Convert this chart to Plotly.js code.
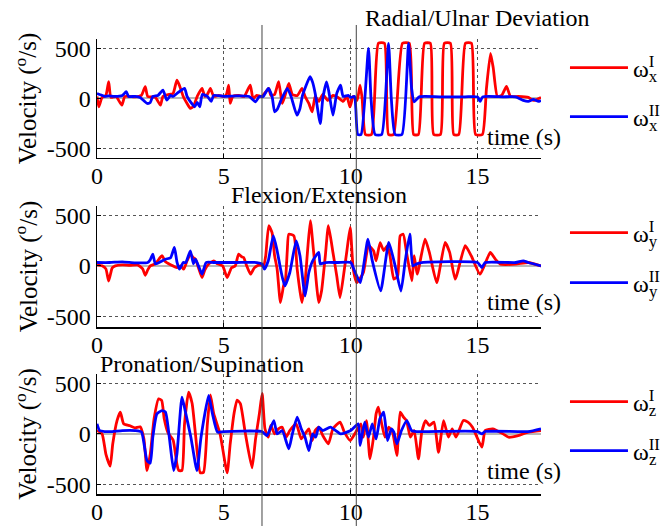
<!DOCTYPE html>
<html>
<head>
<meta charset="utf-8">
<script src="https://cdn.plot.ly/plotly-3.0.1.min.js"></script>
<style>html,body{margin:0;padding:0;background:#fff;overflow:hidden;width:660px;height:526px;}#chart{width:690px;height:526px;}</style>
</head>
<body>
<div id="chart"></div>
<script>
// ---------- data (time in s, angular velocity in deg/s) ----------
const xTicks = [0, 5, 10, 15];
const xTickText = ['0', '5', '10', '15'];
const yTicks = [-500, 0, 500];
const yTickText = ['-500', '0', '500'];
const panelTitles = ['Radial/Ulnar Deviation', 'Flexion/Extension', 'Pronation/Supination'];
const seriesNames = [
  ['ω<sup><span style="letter-spacing:-5.6px">I</span></sup><sub>x</sub>', 'ω<sup>I<span style="letter-spacing:-11px">I</span></sup><sub>x</sub>'],
  ['ω<sup><span style="letter-spacing:-5.6px">I</span></sup><sub>y</sub>', 'ω<sup>I<span style="letter-spacing:-11px">I</span></sup><sub>y</sub>'],
  ['ω<sup><span style="letter-spacing:-5.6px">I</span></sup><sub>z</sub>', 'ω<sup>I<span style="letter-spacing:-11px">I</span></sup><sub>z</sub>']
];

// Radial/Ulnar deviation - sensor I (red)
const tXI = [0,0.07,0.2,0.35,0.46,0.55,0.75,0.98,1.1,1.5,1.75,1.9,2.0,2.3,2.5,2.6,2.85,3.0,3.15,3.25,3.4,3.55,3.68,3.8,3.95,4.14,4.25,4.35,4.47,4.6,4.8,5.0,5.1,5.19,5.25,5.35,5.6,5.8,6.04,6.15,6.3,6.5,6.77,6.85,7.0,7.16,7.3,7.4,7.56,7.7,7.9,8.08,8.2,8.35,8.48,8.6,8.74,8.9,9.1,9.3,9.5,9.7,9.85,9.97,10.1,10.25,10.37,10.45,10.58,10.82,11.09,11.33,11.49,11.69,12.04,12.31,12.48,12.67,12.91,13.14,13.27,13.54,13.69,13.93,14.06,14.26,14.52,14.76,14.92,15.19,15.35,15.51,15.62,15.78,15.95,16.14,16.3,16.6,17.0,17.2,17.5];
const vXI = [20,-83,10,30,167,10,20,-67,20,15,30,117,20,10,-67,20,40,50,183,130,20,-50,-100,-80,20,100,20,40,100,20,30,20,40,133,-50,20,30,20,133,0,30,20,100,30,40,167,-50,20,150,40,30,100,20,-50,-133,20,-30,40,-20,30,10,-30,20,-85,20,-20,133,0,-360,-360,550,550,-360,-360,550,550,-360,-360,550,550,-360,-360,550,550,-360,-360,550,550,-360,-360,100,450,300,20,30,120,20,20,10,-20,10];
// Radial/Ulnar deviation - sensor II (blue)
const tXII = [0,0.1,0.3,0.45,0.7,1.0,1.15,1.25,1.5,1.7,1.98,2.1,2.2,2.4,2.6,2.75,2.9,3.0,3.2,3.45,3.55,3.7,3.85,3.95,4.05,4.15,4.35,4.5,4.6,5.0,5.5,6.0,6.25,6.4,6.55,6.75,6.9,7.0,7.1,7.25,7.5,7.65,7.88,8.0,8.1,8.4,8.5,8.6,8.8,8.9,9.05,9.15,9.3,9.45,9.6,9.7,9.9,10.0,10.15,10.2,10.28,10.41,10.7,10.8,10.96,11.22,11.49,11.6,11.75,12.02,12.28,12.4,12.5,12.7,13.5,14.5,15.0,15.1,15.2,16.0,16.5,16.8,17.0,17.2,17.4,17.5];
const vXII = [50,40,20,25,20,30,67,20,20,10,-50,-40,20,30,83,-17,30,20,60,100,20,-40,-83,-40,-83,40,20,-30,30,20,25,20,-33,20,20,100,20,-133,-110,-20,100,20,-167,-100,30,217,160,50,-250,0,166,50,-167,50,133,20,30,10,20,-100,-360,-360,500,0,-360,-360,550,0,-360,-360,550,100,-34,16,16,16,16,-30,16,16,16,-20,-30,-10,-30,-20];

// Flexion/Extension - sensor I (red)
const tYI = [0,0.2,0.35,0.46,0.6,0.72,1.0,1.3,1.6,1.8,1.9,2.0,2.1,2.3,2.56,2.7,2.9,3.15,3.3,3.42,3.55,3.68,3.8,3.88,4.0,4.14,4.25,4.4,4.6,4.75,4.95,5.13,5.3,5.45,5.58,5.7,5.78,5.9,6.05,6.2,6.37,6.57,6.65,6.77,6.9,7.0,7.1,7.23,7.35,7.43,7.5,7.56,7.76,7.89,8.0,8.08,8.21,8.3,8.41,8.54,8.74,8.85,9.0,9.12,9.3,9.45,9.58,9.75,9.85,9.98,10.1,10.24,10.5,10.7,10.9,11.0,11.16,11.3,11.45,11.55,11.7,11.85,11.95,12.07,12.2,12.41,12.5,12.62,12.93,13.1,13.39,13.72,13.9,14.12,14.51,14.75,15.1,15.5,15.7,15.9,16.5,17.0,17.5];
const vYI = [10,0,-30,-150,-20,0,10,5,10,-30,-93,-40,0,20,100,40,10,-17,0,-33,50,116,80,66,-20,-116,-40,17,50,20,0,-116,-20,0,116,90,83,0,-83,-20,7,7,100,397,330,100,-33,-364,-200,-132,150,314,298,-33,-250,-364,-132,150,447,133,-364,-250,100,397,133,-100,-314,-33,150,381,-33,-166,-66,199,150,50,230,150,200,100,-132,-100,298,314,133,-149,100,-83,265,133,-166,232,133,-132,199,100,-83,132,66,17,17,33,0];
// Flexion/Extension - sensor II (blue)
const tYII = [0,0.5,1.0,1.5,2.0,2.1,2.2,2.3,2.45,2.7,2.9,3.05,3.15,3.25,3.4,3.5,3.68,3.8,3.88,4.0,4.14,4.3,4.6,5.5,6.3,6.5,6.6,6.75,6.95,7.1,7.25,7.4,7.6,7.85,8.0,8.2,8.35,8.5,8.74,8.8,9.0,9.5,10.0,10.15,10.38,10.68,10.85,11.18,11.5,11.75,11.98,12.15,12.33,12.45,12.6,12.8,15.0,15.17,15.3,16.5,16.8,17.0,17.5];
const vYII = [33,33,40,30,33,60,116,20,33,66,80,182,40,-33,33,33,149,20,66,0,-83,33,33,33,33,20,-33,50,298,150,-50,-199,-66,248,100,-298,-66,50,133,20,33,33,33,-50,-166,265,50,-248,232,0,-250,50,314,0,20,33,33,-17,33,33,50,33,0];

// Pronation/Supination - sensor I (red)
const tZI = [0,0.2,0.35,0.52,0.62,0.79,0.92,1.05,1.3,1.5,1.7,1.85,1.97,2.1,2.25,2.43,2.55,2.65,2.8,3.0,3.15,3.22,3.35,3.45,3.61,3.75,3.88,4.07,4.2,4.35,4.47,4.6,4.85,5.13,5.25,5.4,5.52,5.65,5.85,6.11,6.25,6.4,6.51,6.62,6.75,6.85,7.0,7.15,7.3,7.45,7.6,7.85,8.05,8.2,8.35,8.48,8.6,8.74,8.9,9.12,9.3,9.58,9.75,9.98,10.2,10.4,10.5,10.62,10.76,10.9,11.0,11.09,11.22,11.35,11.5,11.65,11.82,11.95,12.08,12.2,12.35,12.5,12.67,12.8,12.95,13.1,13.28,13.46,13.66,13.85,14.0,14.15,14.44,14.62,14.8,15.17,15.3,15.6,16.0,16.22,16.6,17.0,17.5];
const vZI = [33,0,-200,-320,-100,132,215,100,80,60,70,-50,-363,-200,150,347,330,150,10,-60,-300,-363,-363,100,413,300,0,-386,-380,100,385,200,0,-386,-100,200,335,300,0,-336,-50,200,400,50,-33,83,0,50,66,-33,33,99,-50,0,50,-66,33,66,-17,-99,50,116,17,-66,17,100,-33,132,-248,-33,198,264,100,-33,66,17,-215,215,166,132,-33,33,-248,17,132,83,116,-182,132,-33,50,-33,132,116,66,-132,33,50,0,-33,-17,17,33];
// Pronation/Supination - sensor II (blue)
const tZII = [0,0.1,0.3,0.6,1.0,1.5,1.75,1.97,2.1,2.2,2.36,2.56,2.7,2.85,3.02,3.15,3.35,3.5,3.7,3.94,4.1,4.4,4.55,4.75,5.0,6.5,6.7,6.97,7.1,7.3,7.56,7.7,7.89,8.05,8.2,8.35,8.5,8.62,8.74,8.9,9.2,9.6,10.0,10.3,10.37,10.55,10.7,10.85,11.0,11.15,11.3,11.45,11.6,11.7,11.82,12.0,12.21,12.4,12.6,15.0,15.17,15.3,17.0,17.5];
const vZII = [99,33,23,23,33,33,20,-264,-290,-33,198,231,215,-33,-363,-200,363,200,-33,-363,-33,380,200,17,23,23,-17,132,0,33,-149,0,165,50,-33,-165,0,-33,66,33,66,0,33,99,-116,116,-33,99,-50,149,215,-66,50,17,-99,33,132,33,23,23,0,23,23,50];

// ---------- figure ----------
const SERIF = '"Liberation Serif", "Times New Roman", serif';
const RED = '#ff0000', BLUE = '#0000ff';
const times = [[tXI, tXII], [tYI, tYII], [tZI, tZII]];
const vals = [[vXI, vXII], [vYI, vYII], [vZI, vZII]];
const legendY = [[0.936, 0.8286], [0.5736, 0.4637], [0.2022, 0.0945]];
const traces = [];
const layout = {
  width: 690, height: 526,
  margin: {l: 97, r: 149, t: 39, b: 32, autoexpand: false},
  paper_bgcolor: '#ffffff', plot_bgcolor: '#ffffff',
  font: {family: SERIF, size: 23, color: '#000'},
  showlegend: true,
  annotations: [], shapes: []
};
const yDomains = [[0.7385, 1], [0.367, 0.633], [0, 0.2637]];
const yRanges = [[-594, 593], [-606, 593], [-596, 593]];
for (let p = 0; p < 3; p++) {
  const sfx = p === 0 ? '' : String(p + 1);
  for (let s = 0; s < 2; s++) {
    const lg = 'legend' + (p * 2 + s === 0 ? '' : String(p * 2 + s + 1));
    traces.push({
      x: times[p][s], y: vals[p][s], type: 'scatter', mode: 'lines',
      name: seriesNames[p][s],
      line: {color: s === 0 ? RED : BLUE, width: 2.8, shape: 'spline', smoothing: 0.5},
      xaxis: 'x' + sfx, yaxis: 'y' + sfx, legend: lg
    });
    layout[lg] = {
      x: 1.054, xanchor: 'left', y: legendY[p][s], yanchor: 'middle',
      bgcolor: 'rgba(0,0,0,0)', borderwidth: 0, itemwidth: 58,
      font: {family: SERIF, size: 24, color: '#000'}
    };
  }
  layout['xaxis' + sfx] = {
    domain: [0, 1], anchor: 'y' + sfx, range: [0, 17.5],
    tickvals: xTicks, ticktext: xTickText,
    ticks: 'inside', ticklen: 4, tickcolor: '#000', ticklabelstandoff: -4,
    showline: true, linecolor: '#000', linewidth: 1.5,
    showgrid: true, gridcolor: '#555', griddash: 'dot', gridwidth: 1,
    zeroline: false, tickfont: {family: SERIF, size: 24, color: '#000'}
  };
  layout['yaxis' + sfx] = {
    domain: yDomains[p], anchor: 'x' + sfx, range: yRanges[p],
    tickvals: yTicks, ticktext: yTickText,
    ticks: 'inside', ticklen: 4, tickcolor: '#000',
    showline: true, linecolor: '#000', linewidth: 1.5,
    showgrid: true, gridcolor: '#555', griddash: 'dot', gridwidth: 1,
    zeroline: true, zerolinecolor: '#b8b8b8', zerolinewidth: 2,
    tickfont: {family: SERIF, size: 24, color: '#000'},
    title: {text: 'Velocity (<sup>o</sup>/s)', font: {family: SERIF, size: 25, color: '#000'}}
  };
  // tick-only companion axes on the top and right edges (no axis line)
  const ox = 'xaxis' + String(p + 4), oy = 'yaxis' + String(p + 4);
  layout[ox] = {
    overlaying: 'x' + sfx, anchor: 'y' + sfx, side: 'top', range: [0, 17.5],
    tickvals: xTicks, ticks: 'inside', ticklen: 4, tickcolor: '#000',
    showticklabels: false, showgrid: false, zeroline: false, showline: false
  };
  layout[oy] = {
    overlaying: 'y' + sfx, anchor: 'x' + sfx, side: 'right', range: yRanges[p],
    tickvals: yTicks, ticks: 'inside', ticklen: 4, tickcolor: '#000',
    showticklabels: false, showgrid: false, zeroline: false, showline: false
  };
}
// panel titles and "time (s)" labels
const titlePos = [[0.858, 1.046], [0.5, 0.657], [0.2365, 0.2857]];
const timePos = [0.7846, 0.422, 0.0505];
for (let p = 0; p < 3; p++) {
  layout.annotations.push({text: panelTitles[p], xref: 'paper', yref: 'paper', x: titlePos[p][0], y: titlePos[p][1],
    xanchor: 'center', yanchor: 'middle', showarrow: false, font: {family: SERIF, size: 24, color: '#000'}});
  layout.annotations.push({text: 'time (s)', xref: 'paper', yref: 'paper', x: 0.874, y: timePos[p],
    xanchor: 'left', yanchor: 'middle', showarrow: false, font: {family: SERIF, size: 24, color: '#000'}});
}
// thin vertical guide lines crossing the whole figure
[0.3716, 0.584].forEach(function (xp) {
  layout.shapes.push({type: 'line', xref: 'paper', yref: 'paper', x0: xp, x1: xp, y0: -0.0703, y1: 1.0308,
    line: {color: '#444', width: 1}});
});
Plotly.newPlot('chart', traces, layout, {staticPlot: true, displayModeBar: false});
</script>
</body>
</html>
